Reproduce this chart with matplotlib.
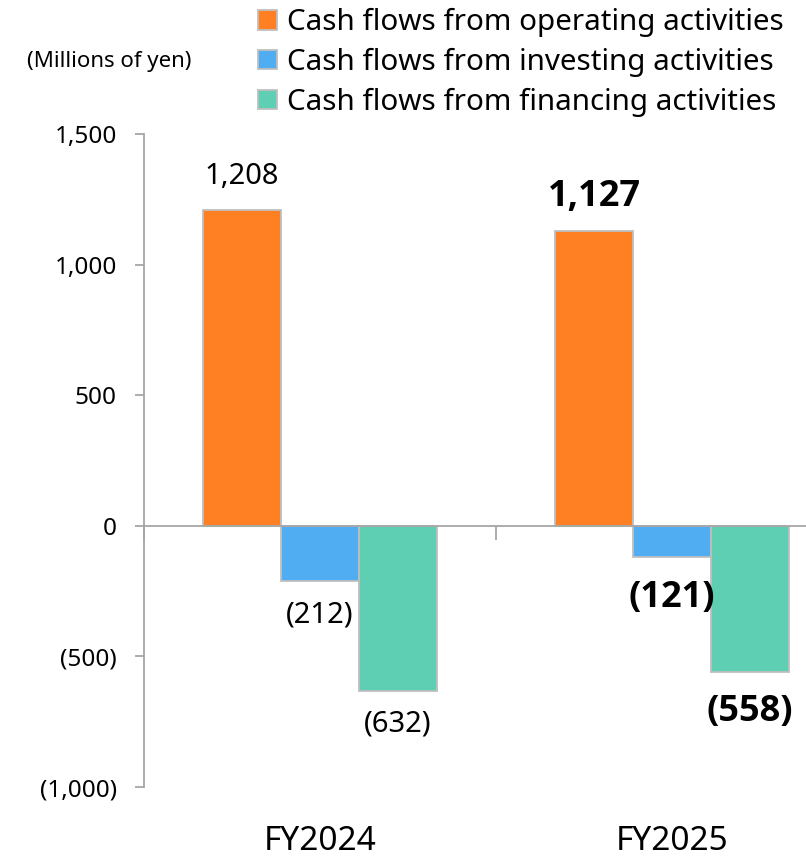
import matplotlib
matplotlib.use('Agg')
import matplotlib.pyplot as plt
import matplotlib.transforms as mtransforms
from matplotlib.ticker import FuncFormatter, FixedLocator

plt.rcParams['font.family'] = ['Noto Sans', 'DejaVu Sans']

# data (millions of yen)
years = ['FY2024', 'FY2025']
series = ['Cash flows from operating activities',
          'Cash flows from investing activities',
          'Cash flows from financing activities']
operating = [1208, 1127]
investing = [-212, -121]
financing = [-632, -558]
colors = ['#FF8022', '#50ADF1', '#5ECFB2']

def fmt(v):
    if v < 0:
        return '({:,})'.format(-v)
    return '{:,}'.format(v)

fig = plt.figure(figsize=(8.06, 8.59), dpi=100)
# axes runs past the right edge, like the original cut-off chart
ax = fig.add_axes([144/806, 72/859, 704/806, 653/859])

w = 0.2216
values = [operating, investing, financing]
bars = []
for j, vals in enumerate(values):
    xs = [i + (j - 1) * w for i in range(len(years))]
    b = ax.bar(xs, vals, width=w, color=colors[j], edgecolor='#BFBFBF',
               linewidth=1.3, label=series[j], zorder=2)
    bars.append(b)

ax.set_xlim(-0.5, 1.5)
ax.set_ylim(-1000, 1500)

# labels: FY2024 regular, FY2025 bold
for j, vals in enumerate(values):
    for i, v in enumerate(vals):
        x = i + (j - 1) * w
        bold = (i == 1)
        if bold:
            off = 25 if v > 0 else -29
            ax.annotate(fmt(v), (x, v), xytext=(0, off), textcoords='offset points',
                        ha='center', va='center', fontsize=26, fontweight='bold',
                        family=['Open Sans', 'DejaVu Sans'], color='black')
        else:
            off = 24 if v > 0 else -24
            ax.annotate(fmt(v), (x, v), xytext=(0, off), textcoords='offset points',
                        ha='center', va='center', fontsize=21, color='black')

# axes styling
for s in ['top', 'right']:
    ax.spines[s].set_visible(False)
ax.spines['bottom'].set_position(('data', 0))
ax.spines['bottom'].set_color('#A6A6A6')
ax.spines['left'].set_color('#A6A6A6')
ax.spines['bottom'].set_linewidth(1.3)
ax.spines['left'].set_linewidth(1.3)
ax.spines['bottom'].set_zorder(3)

ax.yaxis.set_major_locator(FixedLocator([-1000, -500, 0, 500, 1000, 1500]))
ax.yaxis.set_major_formatter(FuncFormatter(lambda v, p: fmt(int(v))))
ax.tick_params(axis='y', direction='out', length=6.5, width=1.3, color='#A6A6A6',
               labelsize=17.5, pad=13)
ax.set_xticks([-0.5, 0.5, 1.5])
ax.set_xticklabels(['', '', ''])
ax.tick_params(axis='x', direction='out', length=10, width=1.3, color='#A6A6A6')

trans = mtransforms.blended_transform_factory(ax.transData, fig.transFigure)
for i, yr in enumerate(years):
    ax.text(i, 1 - 841/859, yr, transform=trans, ha='center', va='center',
            fontsize=24, clip_on=False)

fig.text(109/806, 1 - 61/859, '(Millions of yen)', ha='center', va='center', fontsize=16)

fig.legend(handles=bars, labels=series, loc='upper left',
           bbox_to_anchor=(258/806, 1 - 8/859), frameon=False, fontsize=21.3,
           handlelength=0.64, handleheight=0.64, handletextpad=0.34,
           labelspacing=0.36, borderpad=0, borderaxespad=0)

fig.savefig('out.png', dpi=100)
